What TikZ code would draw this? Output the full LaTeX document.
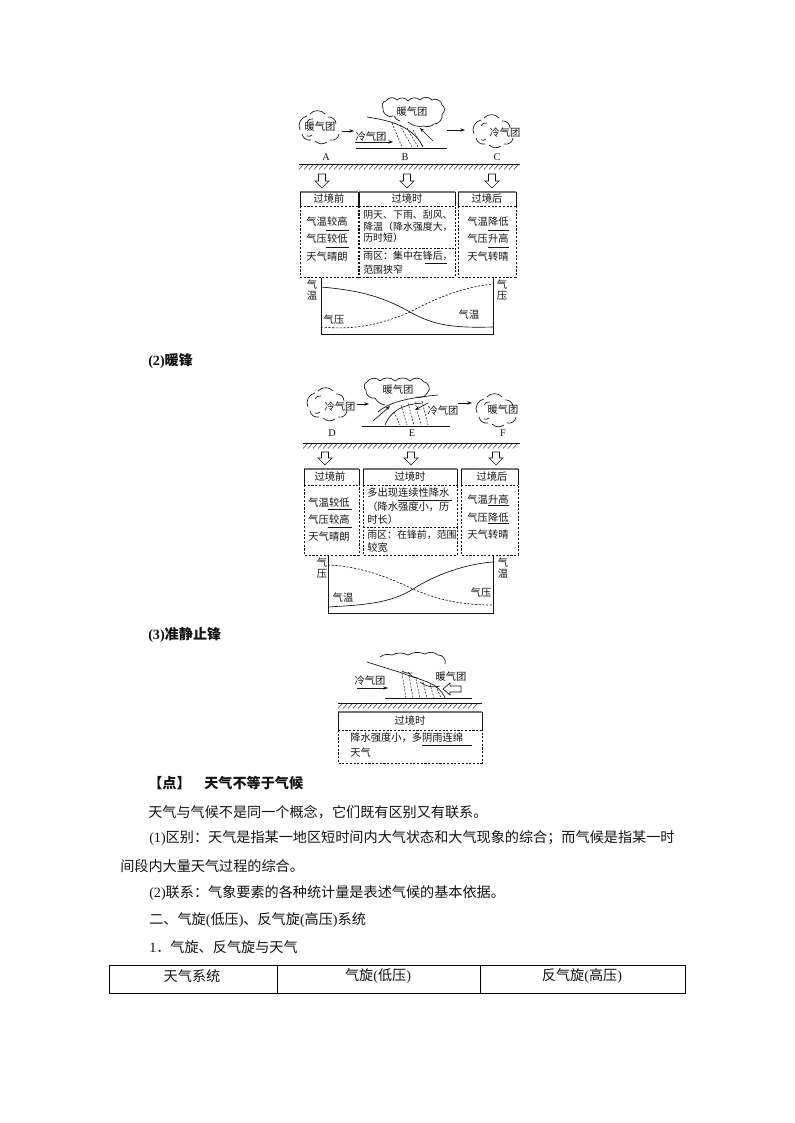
\documentclass[tikz,border=0pt]{standalone}
\usepackage{fontspec}
\setmainfont{Noto Sans CJK SC}
\newfontfamily\latf{Liberation Serif}
\usetikzlibrary{arrows.meta}
\definecolor{ink}{gray}{0.08}
\definecolor{headline}{gray}{0.45}
\newcommand{\dsz}{\fontsize{7.7pt}{9pt}\selectfont}
\newcommand{\esz}{\fontsize{7.45pt}{9pt}\selectfont}
\newcommand{\bsz}{\fontsize{10.6pt}{12pt}\selectfont}
\newcommand{\hatchline}[3]{% x1 x2 y
  \draw[thinln] (#1,#3)--(#2,#3);
  \pgfmathsetmacro{\hxb}{#1+5}
  \pgfmathsetmacro{\hxe}{#2-5}
  \foreach \hx in {#1,\hxb,...,\hxe}{\draw[hairln] (\hx,#3+5.5)--(\hx+5,#3);}
}
\newcommand{\hollowdown}[3]{% x top tip
  \draw[thinln,fill=white] (#1-3.5,#2)--(#1+3.5,#2)--(#1+3.5,#3-7)--(#1+7,#3-7)--(#1,#3)--(#1-7,#3-7)--(#1-3.5,#3-7)--cycle;}
\newcommand{\sidecloud}[2]{% centre
 \begin{scope}[shift={(#1,#2)}]
  \draw[thinln] (-19,2) to[bend left=55] (-12,-12);
  \draw[thinln] (-9,-14) to[bend left=50] (6,-14);
  \draw[thinln] (9,-11) to[bend left=50] (17,-4);
  \draw[thinln] (-17,6) to[bend right=45] (-8,12);
  \draw[thinln] (-4,13) to[bend right=40] (8,14);
  \draw[thinln] (11,12) to[bend right=50] (20,6);
  \draw[thinln] (-12,-6) to[bend left=40] (-6,-9);
  \draw[thinln] (-12,8) to[bend right=30] (-7,7);
 \end{scope}}
\newcommand{\uline}[3]{\draw[thinln] (#1,#3)--(#2,#3);}
\tikzset{
 x=0.75pt,y=-0.75pt,
 thinln/.style={draw=ink,line width=0.5pt},
 hairln/.style={draw=ink,line width=0.3pt},
 dashln/.style={draw=ink,line width=0.5pt,dash pattern=on 1.6pt off 1.2pt},
 rainln/.style={draw=ink,line width=0.4pt,dash pattern=on 1.4pt off 1.1pt},
 headln/.style={draw=headline,line width=0.9pt},
 flow/.style={draw=ink,line width=0.5pt,-{Stealth[length=3.5pt,width=2.6pt]}},
 dt/.style={inner sep=0pt,font=\dsz,text=ink},
 dl/.style={dt,anchor=west},
 el/.style={dl,font=\esz},
 ltr/.style={inner sep=0pt,font=\latf\dsz,text=ink},
 bt/.style={inner sep=0pt,anchor=west,font=\bsz,text=ink},
 btb/.style={bt,font=\bsz\bfseries},
 tc/.style={inner sep=0pt,font=\bsz,text=ink},
 tbl/.style={draw=black,line width=0.6pt},
}
\begin{document}
\begin{tikzpicture}
\useasboundingbox (0,0) rectangle (794,1123);
\fill[white] (0,0) rectangle (794,1123);

% ---------- cold front ----------
\sidecloud{319}{128}
\sidecloud{493}{132}
\draw[thinln] (393,116) to[bend left=70] (383,108) to[bend left=70] (386,101) to[bend left=60] (397,100) to[bend left=50] (408,101)
  to[bend left=50] (420,100) to[bend left=50] (432,100) to[bend left=60] (442,105) to[bend left=70] (442,114) to[bend left=55] (434,124) to[bend left=30] (424,126);
\draw[thinln] (424,126) to[bend left=25] (408,122);
\draw[thinln] (394,116) to[bend right=25] (400,121);
\draw[thinln] (367,117) .. controls (385,120) and (412,124) .. (423,147);
\foreach \a/\b/\c/\d in {392/123/402/147,400/125/412/147,407/128/418/147,413/130/423/147}
  \draw[rainln] (\a,\b)--(\c,\d);
\node[dt] (w1) at (320,127) {暖气团};
\node[dt] (c1) at (371,137) {冷气团};
\node[dt] (w2) at (412,112) {暖气团};
\node[dt] (c2) at (505,133) {冷气团};
\draw[flow] (342,131)--(354,131);
\draw[flow] (355,142)--(393,142);
\draw[flow] (447,130)--(465,130);
\draw[flow] (433,141)--(420,128);
\draw[thinln] (356,148)--(447,148);
\node[ltr] (lA) at (326,157) {A};
\node[ltr] (lB) at (405,157) {B};
\node[ltr] (lC) at (497,157) {C};
\hatchline{299}{520}{164}
\hollowdown{322}{174}{188}
\hollowdown{407}{174}{188}
\hollowdown{492}{174}{188}
% boxes
\foreach \l/\r in {300/358,359/455,458/516}{
  \draw[headln] (\l,192)--(\r,192);
  \draw[thinln] (\l,192)--(\l,206);
  \draw[thinln] (\r,192)--(\r,206);
  \draw[dashln] (\l,206)--(\r,206);
  \draw[dashln] (\l,206)--(\l,277)--(\r,277)--(\r,206);
}
\draw[dashln] (359,248)--(455,248);
\node[dt] (h1) at (329,199) {过境前};
\node[dt] (h2) at (407,199) {过境时};
\node[dt] (h3) at (487,199) {过境后};
\node[dt] (a1) at (327,222) {气温较高};
\node[dt] (a2) at (327,239) {气压较低};
\node[dt] (a3) at (327,257) {天气晴朗};
\uline{326}{349}{230}\uline{326}{349}{247}
\node[el] (b1) at (363,215) {阴天、下雨、刮风、};
\node[el] (b2) at (363,227) {降温（降水强度大，};
\node[el] (b3) at (363,238) {历时短）};
\node[el] (b4) at (363,256) {雨区：集中在锋后，};
\node[el] (b5) at (363,270) {范围狭窄};
\uline{425}{447}{263}
\node[dt] (c3) at (488,222) {气温降低};
\node[dt] (c4) at (488,239) {气压升高};
\node[dt] (c5) at (488,257) {天气转晴};
\uline{488}{509}{230}\uline{488}{509}{247}
% chart
\draw[thinln] (321,278)--(321,334)--(493,334)--(493,278);
\draw[thinln] (321,287) .. controls (355,290) and (380,295) .. (410,312) .. controls (435,326) and (455,328) .. (493,327);
\draw[dashln] (321,327) .. controls (345,329) and (370,329) .. (410,312) .. controls (440,296) and (465,287) .. (493,284);
\node[dt] (t1) at (312,285) {气};
\node[dt] (t2) at (312,296) {温};
\node[dt] (t3) at (502,285) {气};
\node[dt] (t4) at (502,296) {压};
\node[dt] (t5) at (334,320) {气压};
\node[dt] (t6) at (469,315) {气温};

\node[btb] (s2) at (148,361) {{\latf (2)}暖锋};

% ---------- warm front ----------
\sidecloud{327}{405}
\sidecloud{496}{411}
\draw[thinln] (375,398) to[bend left=60] (366,390) to[bend left=70] (367,382) to[bend left=60] (380,381) to[bend left=45] (395,381)
  to[bend left=45] (410,381) to[bend left=55] (424,382) to[bend left=70] (428,392) to[bend left=40] (417,397);
\draw[thinln] (375,398) to[bend right=25] (385,405);
\draw[thinln] (378,412) .. controls (388,403) and (405,398) .. (438,395);
\draw[thinln] (385,425) .. controls (390,412) and (402,404) .. (423,403);
\foreach \a/\b in {394/412,401/405,408/403,415/402,422/401}
  \draw[rainln] (\a,\b)--(\a+6,425);
\node[dt] (w3) at (340,407) {冷气团};
\node[dt] (w4) at (398,390) {暖气团};
\node[dt] (w5) at (443,411) {冷气团};
\node[dt] (w6) at (503,410) {暖气团};
\draw[flow] (357,404)--(369,404);
\draw[flow] (458,403)--(472,403);
\draw[flow] (373,421)--(390,406);
\draw[flow] (428,403)--(415,410);
\draw[thinln] (362,426)--(450,426);
\node[ltr] (lD) at (332,433) {D};
\node[ltr] (lE) at (412,433) {E};
\node[ltr] (lF) at (503,433) {F};
\hatchline{303}{520}{443}
\hollowdown{325}{452}{465}
\hollowdown{411}{452}{465}
\hollowdown{496}{452}{465}
\foreach \l/\r in {304/359,363/457,461/518}{
  \draw[headln] (\l,469)--(\r,469);
  \draw[thinln] (\l,469)--(\l,485);
  \draw[thinln] (\r,469)--(\r,485);
  \draw[dashln] (\l,485)--(\r,485);
  \draw[dashln] (\l,485)--(\l,555)--(\r,555)--(\r,485);
}
\draw[dashln] (363,527)--(457,527);
\node[dt] (h4) at (330,477) {过境前};
\node[dt] (h5) at (410,477) {过境时};
\node[dt] (h6) at (492,477) {过境后};
\node[dt] (d1) at (329,503) {气温较低};
\node[dt] (d2) at (329,520) {气压较高};
\node[dt] (d3) at (329,537) {天气晴朗};
\uline{328}{352}{509}\uline{328}{352}{527}
\node[dl] (e1) at (367,493) {多出现连续性降水};
\node[dl] (e2) at (367,507) {（降水强度小，历};
\node[dl] (e3) at (367,520) {时长）};
\node[el] (e4) at (367,535) {雨区：在锋前，范围};
\node[dl] (e5) at (367,548) {较宽};
\uline{398}{452}{500}
\node[dt] (f1) at (488,500) {气温升高};
\node[dt] (f2) at (488,518) {气压降低};
\node[dt] (f3) at (488,535) {天气转晴};
\uline{488}{509}{505}\uline{488}{509}{523}
\draw[thinln] (328,556)--(328,613)--(493,613)--(493,556);
\draw[thinln] (328,607) .. controls (360,605) and (390,604) .. (413,589) .. controls (435,575) and (465,564) .. (493,562);
\draw[dashln] (328,565) .. controls (360,566) and (390,578) .. (413,589) .. controls (440,601) and (465,605) .. (493,605);
\node[dt] (g1) at (322,563) {气};
\node[dt] (g2) at (322,574) {压};
\node[dt] (g3) at (503,563) {气};
\node[dt] (g4) at (503,574) {温};
\node[dt] (g5) at (343,598) {气温};
\node[dt] (g6) at (481,593) {气压};

\node[btb] (s3) at (148,635) {{\latf (3)}准静止锋};

% ---------- quasi-stationary front ----------
\draw[thinln] (380,657) to[bend left=25] (392,655) to[bend left=25] (408,655) to[bend left=25] (425,654) to[bend left=35] (438,655) to[bend left=60] (445,664);
\draw[thinln] (408,672) to[bend right=25] (418,678);
\draw[thinln] (402,671) to[bend right=20] (412,673);
\draw[thinln] (420,682) to[bend right=25] (440,686);
\draw[thinln] (367,662) -- (402,673) .. controls (425,682) and (438,682) .. (445,698);
\foreach \a/\b/\c in {402/673/406,409/676/413,416/679/420,423/682/427,430/684/434,436/686/441}
  \draw[rainln] (\a,\b)--(\c,698);
\node[dt] (q1) at (370,681) {冷气团};
\node[dt] (q2) at (451,677) {暖气团};
\draw[flow] (357,688)--(388,688);
\draw[thinln] (385,698)--(472,698);
\draw[thinln,fill=white] (443,689)--(450,683)--(450,686)--(461,686)--(461,692)--(450,692)--(450,695)--cycle;
\hatchline{338}{482}{703}
\draw[headln] (338,712)--(482,712);
\draw[thinln] (338,712)--(338,730);
\draw[thinln] (482,712)--(482,730);
\draw[dashln] (338,730)--(482,730);
\draw[dashln] (338,730)--(338,763)--(482,763)--(482,730);
\node[dt] (q3) at (410,721) {过境时};
\node[dl] (q4) at (350,738) {降水强度小，多阴雨连绵};
\node[dl] (q5) at (350,753) {天气};
\uline{422}{472}{745}

% ---------- body text ----------
\node[btb] (p1) at (148,783) {【点】};
\node[btb] (p1b) at (204,783) {天气不等于气候};
\node[bt] (p2) at (148,812) {天气与气候不是同一个概念，它们既有区别又有联系。};
\node[bt] (p3) at (149,838) {{\latf (1)}区别：天气是指某一地区短时间内大气状态和大气现象的综合；而气候是指某一时};
\node[bt] (p4) at (120,866) {间段内大量天气过程的综合。};
\node[bt] (p5) at (149,893) {{\latf (2)}联系：气象要素的各种统计量是表述气候的基本依据。};
\node[bt] (p6) at (149,920) {二、气旋{\latf (}低压{\latf )}、反气旋{\latf (}高压{\latf )}系统};
\node[bt] (p7) at (149,947) {{\latf 1}．气旋、反气旋与天气};

% ---------- table ----------
\draw[tbl] (109,965) rectangle (685,993);
\draw[tbl] (277,965)--(277,993);
\draw[tbl] (480,965)--(480,993);
\node[tc] (k1) at (192,976) {天气系统};
\node[tc] (k2) at (378,976) {气旋{\latf (}低压{\latf )}};
\node[tc] (k3) at (582,976) {反气旋{\latf (}高压{\latf )}};
\end{tikzpicture}
\end{document}
